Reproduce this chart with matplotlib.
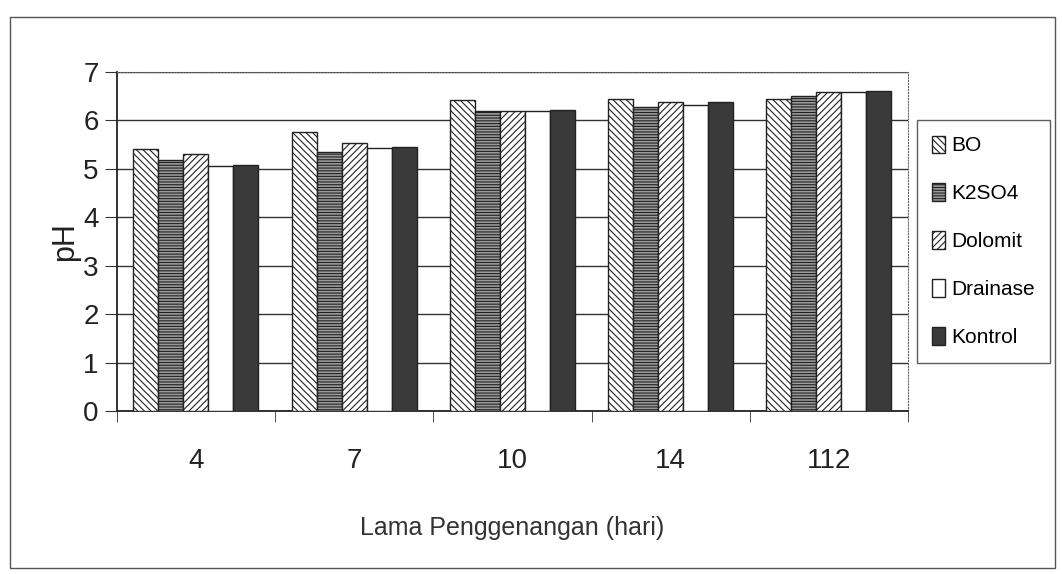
import matplotlib.pyplot as plt
import numpy as np
from matplotlib.patches import Rectangle

plt.rcParams['font.family'] = ['Liberation Sans', 'DejaVu Sans']
plt.rcParams['hatch.linewidth'] = 0.8

categories = ['4', '7', '10', '14', '112']
series = ['BO', 'K2SO4', 'Dolomit', 'Drainase', 'Kontrol']
bo = [5.41, 5.75, 6.41, 6.44, 6.43]
k2so4 = [5.17, 5.34, 6.18, 6.27, 6.49]
dolomit = [5.30, 5.53, 6.18, 6.37, 6.58]
drainase = [5.05, 5.43, 6.20, 6.31, 6.58]
kontrol = [5.08, 5.45, 6.22, 6.38, 6.60]
values = [bo, k2so4, dolomit, drainase, kontrol]

styles = [
    dict(facecolor='white', hatch='\\\\\\\\\\'),
    dict(facecolor='#9a9a9a', hatch='------'),
    dict(facecolor='white', hatch='/////'),
    dict(facecolor='white', hatch=None),
    dict(facecolor='#3a3a3a', hatch=None),
]

fig = plt.figure(figsize=(10.62, 5.74), dpi=100)
ax = fig.add_axes([0.110, 0.284, 0.745, 0.591])

# outer chart border
fig.patches.append(Rectangle((10 / 1062, 6 / 574), 1045 / 1062, 551 / 574,
                             transform=fig.transFigure, fill=False,
                             edgecolor='#555555', linewidth=1.0))

x = np.arange(len(categories))
w = 0.158
for i, (name, vals, st) in enumerate(zip(series, values, styles)):
    ax.bar(x + (i - 2) * w, vals, w, label=name, edgecolor='#222222',
           linewidth=1.0, zorder=3, **st)

ax.set_xlim(-0.5, len(categories) - 0.5)
ax.set_ylim(0, 7)
ax.set_yticks(range(8))
ax.yaxis.grid(True, color='#333333', linewidth=1.0, zorder=0)
ax.set_axisbelow(True)

ax.set_xticks(x)
ax.set_xticklabels(categories, fontsize=20)
ax.set_xticks(np.arange(-0.5, len(categories)), minor=True)
ax.tick_params(axis='x', which='major', length=0, pad=27)
ax.tick_params(axis='x', which='minor', length=8, color='#333333', direction='out')
ax.tick_params(axis='y', length=9, color='#333333', labelsize=20, pad=4,
               colors='#222222')
ax.tick_params(axis='x', colors='#222222')

for s in ['top', 'right']:
    ax.spines[s].set_linestyle(':')
    ax.spines[s].set_color('#666666')
ax.spines['left'].set_color('#222222')
ax.spines['bottom'].set_color('#222222')
ax.spines['left'].set_linewidth(1.3)
ax.spines['bottom'].set_linewidth(1.3)

ax.set_ylabel('pH', fontsize=22, color='#222222', labelpad=2)
ax.set_xlabel('Lama Penggenangan (hari)', fontsize=18, color='#333333',
              labelpad=30)

leg = ax.legend(loc='center left', bbox_to_anchor=(1.011, 0.5), fontsize=15,
                frameon=True, fancybox=False, edgecolor='#333333',
                handlelength=0.6, handleheight=0.9, handletextpad=0.3,
                labelspacing=1.35, borderpad=0.75, borderaxespad=0)
leg.get_frame().set_linewidth(1.0)

fig.savefig('out.png', dpi=100)
